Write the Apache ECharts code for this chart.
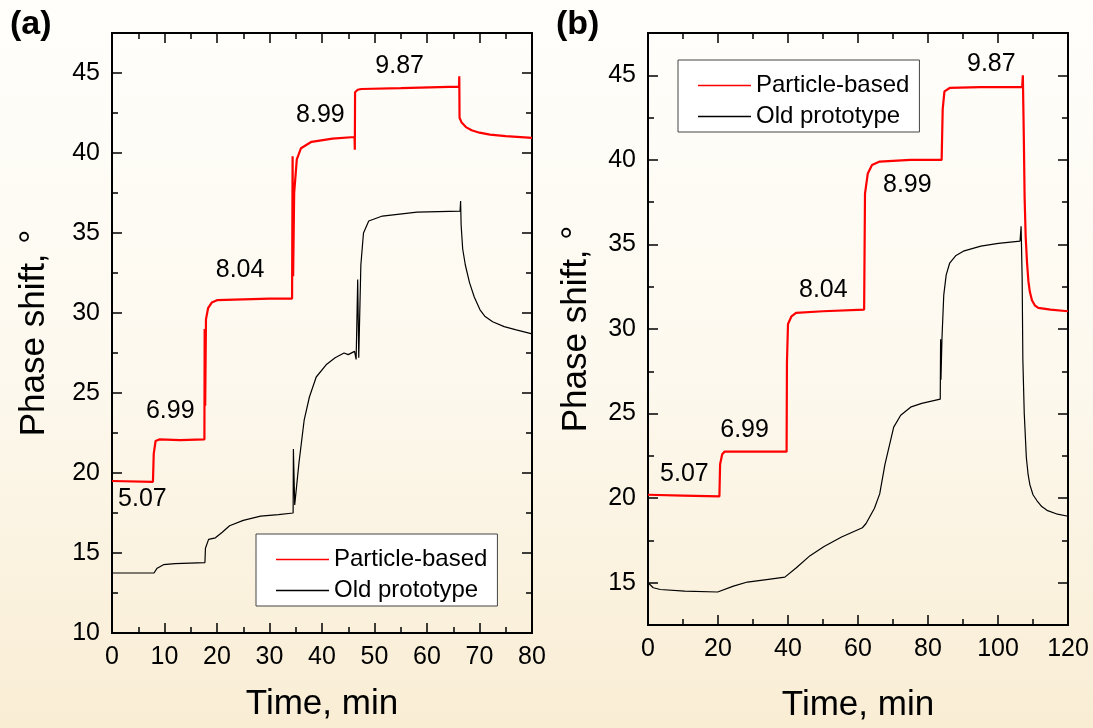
<!DOCTYPE html>
<html>
<head>
<meta charset="utf-8">
<script src="https://cdn.jsdelivr.net/npm/echarts@6.0.0/dist/echarts.min.js"></script>
<style>
  html, body { margin: 0; padding: 0; }
  #chart { width: 1093px; height: 728px; }
</style>
</head>
<body>
<div id="chart"></div>
<script>
// ---- data: [time min, phase shift deg] ----
var redA = [[0,19.5],[7.8,19.45],[7.95,21.2],[8.3,22.0],[9,22.1],[13,22.05],[17.6,22.1],[17.65,29.0],[17.75,24.2],
  [17.9,29.6],[18.3,30.3],[19,30.65],[20,30.8],[25,30.85],[30,30.9],[34.3,30.9],[34.4,39.8],[34.5,32.3],[34.7,37.5],
  [35.2,39.6],[36,40.3],[38,40.7],[42,40.9],[46.2,41.0],[46.25,40.2],[46.3,43.8],[46.8,43.95],[47.5,44.0],[55,44.05],
  [66.1,44.15],[66.15,44.8],[66.2,42.2],[66.6,41.9],[67.5,41.6],[68.5,41.42],[70,41.27],[72,41.15],[75,41.05],[80,40.95]];
var blackA = [[0,13.75],[8.0,13.75],[8.6,14.05],[9.8,14.27],[12,14.33],[17.7,14.4],[17.8,15.3],[18.4,15.85],[19.7,15.95],
  [21,16.3],[22.4,16.7],[25,17.04],[28.3,17.3],[31.7,17.4],[34.5,17.5],[34.55,21.5],[34.8,18.0],[35.6,20.6],[36.6,23.3],
  [37.6,24.75],[38.9,26.0],[40.9,26.8],[42.5,27.2],[44.2,27.5],[45,27.4],[46.2,27.6],[46.5,27.1],[46.8,32.1],[47.0,27.2],
  [47.4,33],[47.9,35.0],[48.9,35.75],[51.5,36.06],[58.1,36.3],[66.3,36.37],[66.4,37.0],[66.5,35.5],[66.8,34.0],
  [67.3,33.0],[68.1,31.9],[69,31.0],[70.1,30.2],[71,29.8],[72.5,29.45],[74.7,29.15],[77,28.95],[80,28.7]];
var redB = [[0,20.2],[10,20.15],[20.4,20.1],[20.6,22.0],[21.2,22.6],[21.9,22.75],[30,22.75],[39.6,22.75],[39.7,28],
  [40.0,30.3],[41,30.75],[42.3,30.95],[50,31.05],[61.75,31.15],[62.0,38.0],[62.8,39.2],[64,39.7],[66.2,39.9],[75,40.0],
  [83.9,40.0],[84.2,43.0],[84.7,44.05],[86.2,44.25],[95,44.3],[106.9,44.3],[107.1,45.0],[107.4,41.0],[107.6,37.8],
  [107.9,35.5],[108.3,33.9],[108.7,32.8],[109.1,32.2],[109.7,31.7],[110.5,31.4],[111.5,31.25],[115,31.15],[120,31.05]];
var blackB = [[0,15.0],[1.5,14.7],[3.5,14.6],[10.5,14.5],[19.9,14.45],[24.4,14.8],[28.4,15.04],[34.4,15.2],[39.1,15.33],
  [42.3,15.87],[46.3,16.6],[50.3,17.14],[55.3,17.7],[61.25,18.25],[62.3,18.5],[64.7,19.4],[66.2,20.25],[67.7,22.0],
  [70.2,24.2],[72.2,24.9],[75.2,25.4],[78.2,25.6],[83.5,25.85],[83.6,29.4],[83.7,27.0],[84.0,29.5],[84.5,32.0],
  [85.2,33.2],[86.2,33.9],[88,34.35],[90.1,34.6],[95.1,34.9],[100.1,35.06],[106.3,35.2],[106.6,36.07],[106.9,33],
  [107.1,28.2],[107.5,25.0],[108.1,22.4],[108.6,21.4],[109.1,20.8],[110,20.2],[111.1,19.86],[112.5,19.5],[114,19.28],
  [117,19.05],[120,18.93]];

// step labels (pH values) placed at [time, phase shift]
var stepsA = [{name:'5.07',value:[5.8,18.35]},{name:'6.99',value:[11.1,23.85]},{name:'8.04',value:[24.4,32.7]},
  {name:'8.99',value:[39.7,42.35]},{name:'9.87',value:[54.8,45.4]}];
var stepsB = [{name:'5.07',value:[10.4,21.45]},{name:'6.99',value:[27.6,24.0]},{name:'8.04',value:[50.1,32.3]},
  {name:'8.99',value:[74.1,38.5]},{name:'9.87',value:[98.1,45.65]}];

// tick values
var yMajorA = [10,15,20,25,30,35,40,45];
var yMinorA = [12.5,17.5,22.5,27.5,32.5,37.5,42.5];
var yMajorB = [15,20,25,30,35,40,45];
var yMinorB = [12.5,17.5,22.5,27.5,32.5,37.5,42.5];

var F = '"Liberation Sans", Arial, sans-serif';
var chart = echarts.init(document.getElementById('chart'));

function xAx(grid, max, step, bottom, name, gap) {
  return {
    type:'value', gridIndex:grid, min:0, max:max, interval:step, position: bottom ? 'bottom' : 'top',
    name: bottom ? name : '', nameLocation:'middle', nameGap:gap,
    nameTextStyle:{fontSize:35, color:'#000', fontFamily:F},
    axisLine:{show:true, onZero:false, lineStyle:{color:'#000', width:2}},
    axisTick:{show:true, inside:true, length:10, lineStyle:{color:'#000', width:1.5}},
    minorTick:{show:true, splitNumber:2, length:6, lineStyle:{color:'#000', width:1.5}},
    axisLabel:{show:bottom, margin:12, fontSize:25, color:'#000', fontFamily:F},
    splitLine:{show:false}
  };
}
function yAx(grid, min, ticks, pos, major, name, gap) {
  return {
    type:'value', gridIndex:grid, min:min, max:47.5, position:pos,
    name: (major && pos === 'left') ? name : '', nameLocation:'middle', nameGap:gap,
    nameTextStyle:{fontSize:35, color:'#000', fontFamily:F},
    axisLine:{show:true, onZero:false, lineStyle:{color:'#000', width:2}},
    axisTick:{show:true, inside:true, length: major ? 10 : 6, customValues:ticks, lineStyle:{color:'#000', width:1.5}},
    axisLabel:{show: major && pos === 'left', customValues:ticks, margin:12, fontSize:25, color:'#000', fontFamily:F},
    splitLine:{show:false}
  };
}
function line(name, data, xi, yi, color, w) {
  return {name:name, type:'line', data:data, xAxisIndex:xi, yAxisIndex:yi, showSymbol:false, symbol:'none',
    silent:true, animation:false, itemStyle:{color:color}, lineStyle:{color:color, width:w}};
}
function steps(data, xi, yi) {
  return {type:'scatter', data:data, xAxisIndex:xi, yAxisIndex:yi, symbolSize:0, silent:true, animation:false,
    itemStyle:{color:'#000'},
    label:{show:true, position:'inside', formatter:'{b}', fontSize:25, color:'#000', opacity:1,
      textBorderWidth:0, fontFamily:F}};
}
function legendAt(left, top) {
  return {left:left, top:top, orient:'vertical', data:['Particle-based','Old prototype'], selectedMode:false,
    icon:'rect', itemWidth:53, itemHeight:1.5, itemGap:6, padding:[13,10,3,20],
    backgroundColor:'#fff', borderColor:'#444', borderWidth:1,
    textStyle:{fontSize:24, color:'#000', fontFamily:F, lineHeight:25}};
}

chart.setOption({
  backgroundColor: new echarts.graphic.LinearGradient(0, 0, 0, 1, [
    {offset:0, color:'#fffefb'}, {offset:0.5, color:'#fdf9ef'}, {offset:1, color:'#f9edd4'}]),
  grid: [
    {left:112, top:33, width:420, height:600},
    {left:648, top:33, width:420, height:600}
  ],
  xAxis: [
    xAx(0, 80, 10, true, 'Time, min', 54), xAx(0, 80, 10, false),
    xAx(1, 120, 20, true, 'Time, min', 63), xAx(1, 120, 20, false)
  ],
  yAxis: [
    yAx(0, 10, yMajorA, 'left', true, 'Phase shift, \u00b0', 60), yAx(0, 10, yMinorA, 'left', false),
    yAx(0, 10, yMajorA, 'right', true), yAx(0, 10, yMinorA, 'right', false),
    yAx(1, 12.5, yMajorB, 'left', true, 'Phase shift, \u00b0', 54), yAx(1, 12.5, yMinorB, 'left', false),
    yAx(1, 12.5, yMajorB, 'right', true), yAx(1, 12.5, yMinorB, 'right', false)
  ],
  legend: [legendAt(256, 534), legendAt(678, 60)],
  graphic: [
    {type:'text', left:10, top:8, style:{text:'(a)', font:'bold 34px ' + F, fill:'#000'}},
    {type:'text', left:556, top:8, style:{text:'(b)', font:'bold 34px ' + F, fill:'#000'}}
  ],
  series: [
    line('Particle-based', redA, 0, 0, '#ff0000', 2.2),
    line('Old prototype', blackA, 0, 0, '#000000', 1.2),
    steps(stepsA, 0, 0),
    line('Particle-based', redB, 2, 4, '#ff0000', 2.2),
    line('Old prototype', blackB, 2, 4, '#000000', 1.2),
    steps(stepsB, 2, 4)
  ]
});
</script>
</body>
</html>
